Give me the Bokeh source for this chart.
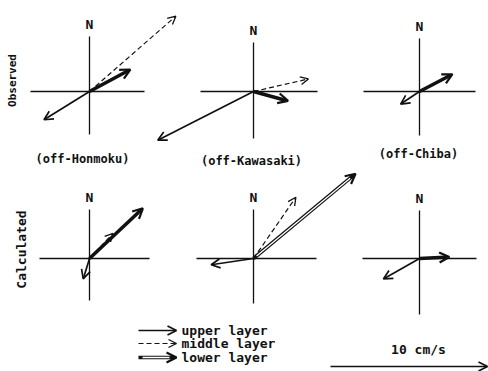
import numpy as np
from bokeh.plotting import figure
from bokeh.models import Arrow, OpenHead, ColumnDataSource, Range1d, Label
from bokeh.embed import file_html
from bokeh.resources import INLINE

# ---------------- data (cm/s, u = east, v = north) ----------------
stations = ["(off-Honmoku)", "(off-Kawasaki)", "(off-Chiba)"]
rows = ["Observed", "Calculated"]
layers = ["upper layer", "middle layer", "lower layer"]

obs_upper_u = [-2.9, -6.1, -1.2]
obs_upper_v = [-1.8, -3.1, -0.8]
obs_middle_u = [5.5, 3.5, np.nan]
obs_middle_v = [4.8, 0.8, np.nan]
obs_lower_u = [2.6, 2.2, 2.1]
obs_lower_v = [1.4, -0.6, 1.1]

calc_upper_u = [-0.4, -2.7, -2.3]
calc_upper_v = [-1.3, -0.4, -1.3]
calc_middle_u = [1.5, 2.7, np.nan]
calc_middle_v = [1.6, 3.9, np.nan]
calc_lower_u = [3.4, 6.5, 1.9]
calc_lower_v = [3.2, 5.4, 0.1]

scale_speed = 10  # cm/s
scale_label = "10 cm/s"

# ---------------- layout ----------------
PX = 15.7  # pixels per cm/s
col_x = [89, 253, 419]
row_y = [91, 258]
# axis cross extents (left, right, up, down) in px
extents = [
    [(59, 55, 55, 43), (53, 64, 49, 47), (56, 56, 53, 44)],
    [(50, 60, 49, 42), (57, 63, 49, 45), (57, 57, 48, 56)],
]
FONT = "DejaVu Sans Mono"
INK = "#111111"
WEIGHT = "bold"

p = figure(width=488, height=371, x_range=Range1d(0, 488), y_range=Range1d(371, 0),
           output_backend="svg", toolbar_location=None, min_border=0,
           x_axis_location=None, y_axis_location=None)
p.grid.visible = False
p.outline_line_color = None

# axis crosses
for r in range(2):
    for c in range(3):
        ox, oy = col_x[c], row_y[r]
        l, rr, u, d = extents[r][c]
        p.segment(x0=[ox - l, ox], y0=[oy, oy - u], x1=[ox + rr, ox], y1=[oy, oy + d],
                  line_color=INK, line_width=1.3)
        p.add_layout(Label(x=ox, y=oy - u - 12, text="N", text_align="center",
                           text_baseline="middle", text_font=FONT, text_font_size="13px",
                           text_font_style=WEIGHT, text_color=INK))

# station names
name_pos = [(82, 158), (251, 160), (418, 153)]
for (x, y), s in zip(name_pos, stations):
    p.add_layout(Label(x=x, y=y, text=s, text_align="center", text_baseline="middle",
                       text_font=FONT, text_font_size="12px", text_font_style=WEIGHT,
                       text_color=INK))

# row labels
p.add_layout(Label(x=12, y=80, text=rows[0], angle=np.pi / 2, text_align="center",
                   text_baseline="middle", text_font=FONT, text_font_size="11px",
                   text_font_style=WEIGHT, text_color=INK))
p.add_layout(Label(x=21, y=249, text=rows[1], angle=np.pi / 2, text_align="center",
                   text_baseline="middle", text_font=FONT, text_font_size="13px",
                   text_font_style=WEIGHT, text_color=INK))


def draw_arrows(us, vs, r, style):
    xs0, ys0, xs1, ys1 = [], [], [], []
    for c, (u, v) in enumerate(zip(us, vs)):
        if np.isnan(u):
            continue
        ox, oy = col_x[c], row_y[r]
        xs0.append(ox); ys0.append(oy)
        xs1.append(ox + PX * u); ys1.append(oy - PX * v)
    draw_seg(xs0, ys0, xs1, ys1, style)


def draw_seg(xs0, ys0, xs1, ys1, style):
    src = ColumnDataSource(dict(x0=xs0, y0=ys0, x1=xs1, y1=ys1))
    if style == "upper":
        p.add_layout(Arrow(x_start="x0", y_start="y0", x_end="x1", y_end="y1", source=src,
                           line_width=1.7, line_color=INK,
                           end=OpenHead(size=9, line_width=1.7, line_color=INK)))
    elif style == "middle":
        p.add_layout(Arrow(x_start="x0", y_start="y0", x_end="x1", y_end="y1", source=src,
                           line_width=1.2, line_color=INK, line_dash="5 3",
                           end=OpenHead(size=8, line_width=1.3, line_color=INK)))
    else:
        p.add_layout(Arrow(x_start="x0", y_start="y0", x_end="x1", y_end="y1", source=src,
                           line_width=3.6, line_color=INK,
                           end=OpenHead(size=10, line_width=2.2, line_color=INK)))
        # double-line look for long vectors and the legend sample
        dx0, dy0, dx1, dy1 = [], [], [], []
        for a, b, cc, d in zip(xs0, ys0, xs1, ys1):
            L = np.hypot(cc - a, d - b)
            if L > 100 or style == "lower_legend":
                ux, uy = (cc - a) / L, (d - b) / L
                dx0.append(a + ux * 4); dy0.append(b + uy * 4)
                dx1.append(cc - ux * 7); dy1.append(d - uy * 7)
        if dx0:
            src2 = ColumnDataSource(dict(x0=dx0, y0=dy0, x1=dx1, y1=dy1))
            p.add_layout(Arrow(x_start="x0", y_start="y0", x_end="x1", y_end="y1",
                               source=src2, line_width=1.3, line_color="white", end=None))


draw_arrows(obs_upper_u, obs_upper_v, 0, "upper")
draw_arrows(obs_middle_u, obs_middle_v, 0, "middle")
draw_arrows(obs_lower_u, obs_lower_v, 0, "lower")
draw_arrows(calc_upper_u, calc_upper_v, 1, "upper")
draw_arrows(calc_middle_u, calc_middle_v, 1, "middle")
draw_arrows(calc_lower_u, calc_lower_v, 1, "lower")

# legend
leg_y = [330, 343, 357]
styles = ["upper", "middle", "lower_legend"]
for y, st, name in zip(leg_y, styles, layers):
    draw_seg([138], [y], [176], [y], st)
    p.add_layout(Label(x=181, y=y, text=name, text_align="left", text_baseline="middle",
                       text_font=FONT, text_font_size="13px", text_font_style=WEIGHT,
                       text_color=INK))

# scale bar
sx0, sy = 330, 366
draw_seg([sx0], [sy], [sx0 + PX * scale_speed], [sy], "upper")
p.add_layout(Label(x=418, y=349, text=scale_label, text_align="center", text_baseline="middle",
                   text_font=FONT, text_font_size="13px", text_font_style=WEIGHT,
                   text_color=INK))

open("out.html", "w").write(file_html(p, INLINE))
